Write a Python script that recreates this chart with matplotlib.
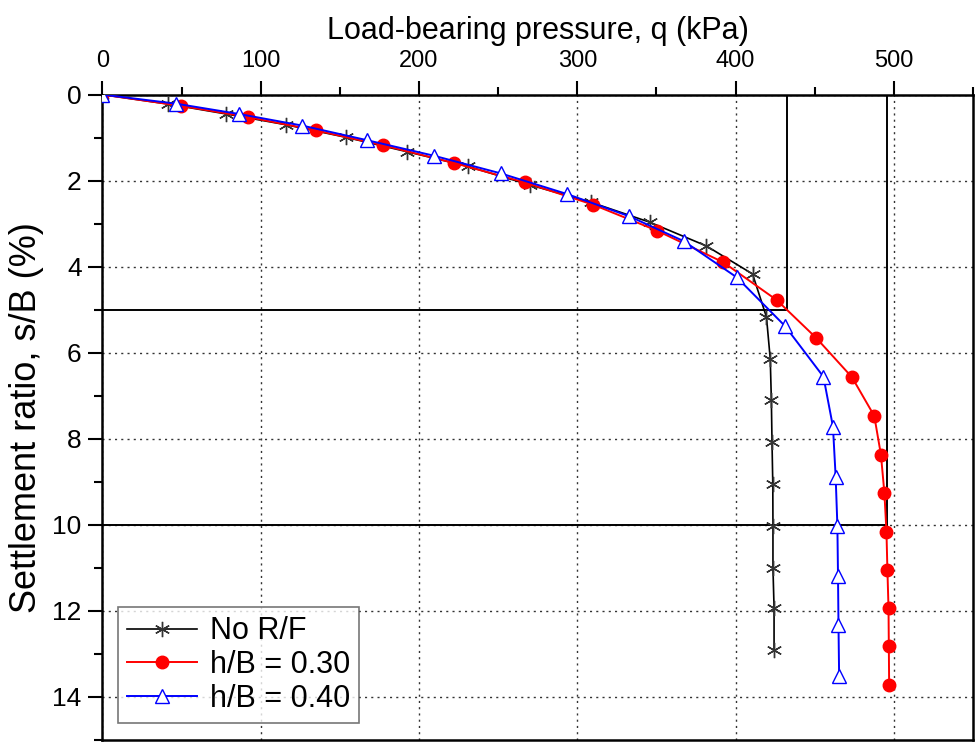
import numpy as np
import matplotlib.pyplot as plt
from matplotlib.ticker import MultipleLocator

plt.rcParams['font.family'] = ['Liberation Sans', 'DejaVu Sans']

#%%
"""
Data read off the load-settlement curves
q in kPa, s/B in %
"""
q_norf = [0, 41.7, 78.2, 115.9, 153.6, 192.7, 231.0, 270.0, 308.4, 346.0, 381.6,
          410.7, 419.5, 421.9, 422.6, 423.0, 423.5, 423.6, 423.6, 424.3, 424.3]
s_norf = [0, 0.22, 0.45, 0.70, 0.99, 1.33, 1.67, 2.10, 2.50, 2.97, 3.52,
          4.17, 5.17, 6.15, 7.11, 8.07, 9.06, 10.02, 11.00, 11.94, 12.92]

q_h30 = [0, 49.5, 91.7, 134.7, 177.5, 222.2, 266.7, 310.1, 350.2, 392.3, 426.1,
         451.0, 473.5, 487.6, 491.8, 494.0, 495.3, 495.9, 496.6, 496.8, 497.0]
s_h30 = [0, 0.26, 0.52, 0.83, 1.18, 1.59, 2.04, 2.56, 3.16, 3.90, 4.78,
         5.66, 6.57, 7.47, 8.37, 9.26, 10.16, 11.05, 11.94, 12.83, 13.73]

q_h40 = [0, 46.4, 86.2, 126.2, 167.2, 209.3, 251.5, 293.4, 332.9, 367.4, 400.8,
         431.2, 455.5, 461.5, 463.2, 464.3, 464.7, 465.0, 465.4]
s_h40 = [0, 0.21, 0.45, 0.72, 1.06, 1.42, 1.83, 2.31, 2.83, 3.41, 4.25,
         5.38, 6.56, 7.72, 8.88, 10.02, 11.20, 12.34, 13.51]

labels = ['No R/F', 'h/B = 0.30', 'h/B = 0.40']

#bearing capacity read at s/B = 5 % and 10 %
sB_ref = [5, 10]
q_ref = [432.5, 495.5]

#%%
fig = plt.figure(figsize=(9.75, 7.42), dpi=100)
ax = fig.add_axes([0.105, 0.003, 0.893, 0.8695])

ax.plot(q_norf, s_norf, color='black', lw=1.2, marker=(6, 2, 0), ms=11,
        mec='#333333', mew=1.0, label=labels[0], zorder=3)
ax.plot(q_h30, s_h30, color='red', lw=1.4, marker='o', ms=9,
        mfc='red', mec='red', label=labels[1], zorder=3)
ax.plot(q_h40, s_h40, color='blue', lw=1.4, marker='^', ms=10,
        mfc='white', mec='blue', mew=1.0, label=labels[2], zorder=4)

#reference lines for the 5% and 10% settlement
for s, q in zip(sB_ref, q_ref):
    ax.plot([0, q], [s, s], color='black', lw=1.4, zorder=2)
    ax.plot([q, q], [0, s], color='black', lw=1.4, zorder=2)

ax.set_xlim(0, 550)
ax.set_ylim(15, 0)
ax.xaxis.tick_top()
ax.xaxis.set_label_position('top')
ax.xaxis.set_major_locator(MultipleLocator(100))
ax.xaxis.set_minor_locator(MultipleLocator(50))
ax.yaxis.set_major_locator(MultipleLocator(2))
ax.yaxis.set_minor_locator(MultipleLocator(1))

ax.tick_params(which='major', direction='out', length=10, width=1.5,
               top=True, bottom=False, left=True, right=False)
ax.tick_params(which='minor', direction='out', length=6, width=1.5,
               top=True, bottom=False, left=True, right=False)
ax.tick_params(axis='x', labelsize=17, pad=6)
ax.tick_params(axis='y', labelsize=19, pad=5)

for sp in ax.spines.values():
    sp.set_linewidth(1.8)

ax.grid(True, which='major', linestyle=(0, (1.5, 3)), color='#333333', lw=1.0)
ax.set_axisbelow(True)

ax.set_xlabel('Load-bearing pressure, q (kPa)', fontsize=22, labelpad=8)
ax.set_ylabel('Settlement ratio, s/B (%)', fontsize=26, labelpad=6)

leg = ax.legend(loc='lower left', bbox_to_anchor=(0.018, 0.026), fontsize=22,
                frameon=True, fancybox=False, handlelength=2.3,
                borderpad=0.3, labelspacing=0.12, handletextpad=0.4,
                borderaxespad=0)
leg.get_frame().set_edgecolor('#555555')
leg.get_frame().set_linewidth(1.2)

fig.savefig('out.png', dpi=100)
